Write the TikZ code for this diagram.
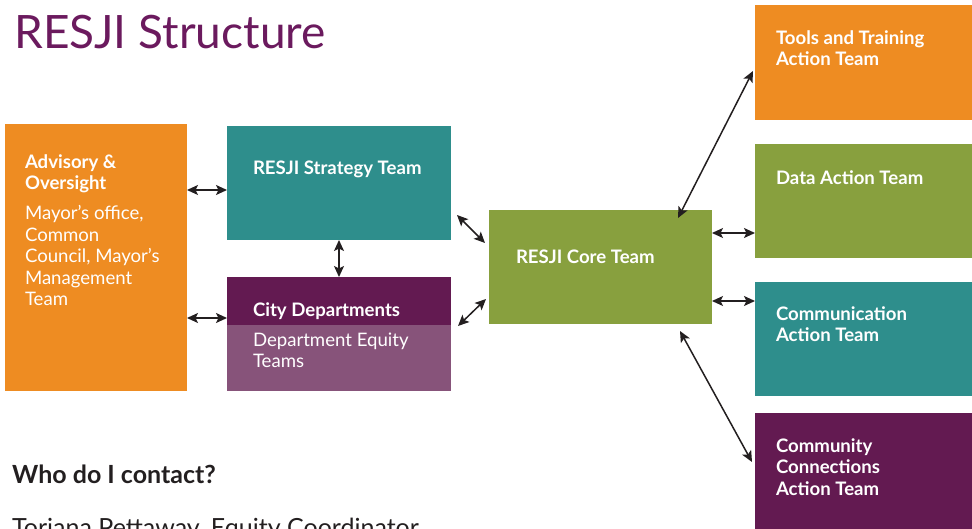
\documentclass[tikz,border=0pt]{standalone}
\usepackage{fontspec}
\setmainfont{Lato}
\usetikzlibrary{arrows.meta}
\definecolor{cOrange}{HTML}{EE8C22}
\definecolor{cTeal}{HTML}{2E8E8C}
\definecolor{cGreen}{HTML}{88A03E}
\definecolor{cPurple}{HTML}{631A51}
\definecolor{cLilac}{HTML}{87537A}
\definecolor{cTitle}{HTML}{6B1A5E}
\definecolor{cDark}{HTML}{231F20}
\begin{document}
\begin{tikzpicture}[x=1pt,y=-1pt,
  box/.style={draw=none,inner sep=0pt,outer sep=0pt,anchor=north west},
  btxt/.style={text=white,inner sep=0pt,outer sep=0pt,anchor=north west,align=left,
    font=\fontsize{18.6}{21.5}\selectfont\bfseries},
  rtxt/.style={text=white,inner sep=0pt,outer sep=0pt,anchor=north west,align=left,
    font=\fontsize{18.6}{21.5}\selectfont},
  dbl/.style={{Stealth[length=11pt,width=10pt,inset=2.5pt]}-{Stealth[length=11pt,width=10pt,inset=2.5pt]},line width=1.5pt,draw=cDark,fill=cDark}]
\useasboundingbox (0,0) rectangle (972,529);
% boxes
\node[box,fill=cOrange,minimum width=182pt,minimum height=267pt] (adv) at (5,124) {};
\node[box,fill=cTeal,minimum width=224pt,minimum height=114pt] (strat) at (227,126) {};
\node[box,fill=cPurple,minimum width=224pt,minimum height=48pt] (city) at (227,277) {};
\node[box,fill=cLilac,minimum width=224pt,minimum height=66pt] (dept) at (227,325) {};
\node[box,fill=cGreen,minimum width=223pt,minimum height=114pt] (core) at (489,210) {};
\node[box,fill=cOrange,minimum width=217pt,minimum height=115pt] (tools) at (755,5) {};
\node[box,fill=cGreen,minimum width=217pt,minimum height=114pt] (data) at (755,144) {};
\node[box,fill=cTeal,minimum width=217pt,minimum height=114pt] (comm) at (755,282) {};
\node[box,fill=cPurple,minimum width=217pt,minimum height=116pt] (ccat) at (755,413) {};
% texts
\node[anchor=north west,inner sep=0pt,text=cTitle,font=\fontsize{46}{50}\selectfont] (title) at (14,15) {RESJI Structure};
\node[btxt] (advt) at (25,154.5) {Advisory \&\\Oversight};
\node[rtxt] (advr) at (25,205.5) {Mayor's office,\\Common\\Council, Mayor's\\Management\\Team};
\node[btxt] (stratt) at (253,160.5) {RESJI Strategy Team};
\node[btxt] (cityt) at (253,302.5) {City Departments};
\node[rtxt] (deptt) at (253,332.5) {Department Equity\\Teams};
\node[btxt] (coret) at (516,249.5) {RESJI Core Team};
\node[btxt] (toolst) at (776,30.5) {Tools and Training\\Action Team};
\node[btxt] (datat) at (776,170.5) {Data Action Team};
\node[btxt] (commt) at (776,306.5) {Communication\\Action Team};
\node[btxt] (ccatt) at (776,438.5) {Community\\Connections\\Action Team};
\node[anchor=north west,inner sep=0pt,text=cDark,font=\fontsize{25}{29}\selectfont\bfseries] (who) at (12,465) {Who do I contact?};
\node[anchor=north west,inner sep=0pt,text=cDark,font=\fontsize{25}{29}\selectfont] (tori) at (12,518) {Toriana Pettaway, Equity Coordinator};
% connectors
\draw[dbl] ([yshift=-7pt]adv.east |- strat.west) -- ([yshift=-7pt]strat.west);
\draw[dbl] ([yshift=7pt]adv.east |- city.south) -- ([yshift=7pt]city.south west);
\draw[dbl] (strat.south) -- (city.north);
\draw[dbl] ([xshift=6pt,yshift=-32pt]strat.east) -- ([xshift=-4pt,yshift=24pt]core.west);
\draw[dbl] ([xshift=7pt,yshift=-1pt]city.south east) -- ([xshift=-3pt,yshift=-32pt]core.west);
\draw[dbl] ([xshift=-34pt,yshift=-8pt]core.north east) -- ([xshift=-2pt,yshift=-8.5pt]tools.west);
\draw[dbl] ([yshift=34pt]core.east) -- ([yshift=-32pt]data.west);
\draw[dbl] ([yshift=-34pt]core.east) -- ([yshift=38pt]comm.west);
\draw[dbl] ([xshift=-32pt,yshift=-7pt]core.south east) -- ([xshift=-3pt,yshift=9pt]ccat.west);
\end{tikzpicture}
\end{document}
